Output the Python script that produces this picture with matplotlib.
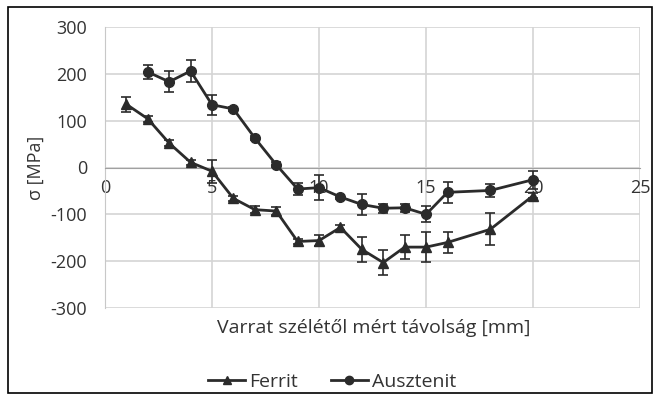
import numpy as np
import matplotlib.pyplot as plt
from matplotlib.patches import Rectangle
from matplotlib.lines import Line2D

plt.rcParams['font.family'] = ['Open Sans', 'DejaVu Sans']
plt.rcParams['axes.unicode_minus'] = False

# Ferrit mérési pontok
x_ferrit = [1, 2, 3, 4, 5, 6, 7, 8, 9, 10, 11, 12, 13, 14, 15, 16, 18, 20]
y_ferrit = [135, 104, 52, 11, -8, -66, -90, -93, -158, -156, -128, -175, -203, -170, -170, -160, -132, -60]
e_ferrit = [16, 6, 6, 6, 25, 5, 8, 8, 6, 12, 6, 26, 27, 25, 32, 22, 34, 5]

# Ausztenit mérési pontok
x_aus = [2, 3, 4, 5, 6, 7, 8, 9, 10, 11, 12, 13, 14, 15, 16, 18, 20]
y_aus = [204, 183, 206, 134, 125, 63, 6, -46, -43, -63, -79, -87, -86, -100, -53, -49, -26]
e_aus = [14, 22, 23, 21, 5, 5, 5, 12, 27, 5, 23, 10, 8, 17, 23, 14, 19]

fig = plt.figure(figsize=(6.6, 4), dpi=100)
ax = fig.add_axes([0.159, 0.23, 0.811, 0.7025])

szin = '#2b2b2b'
ax.errorbar(x_ferrit, y_ferrit, yerr=e_ferrit, color=szin, marker='^', markersize=7,
            linewidth=2, elinewidth=1.2, capsize=3.5, capthick=1.2, zorder=3)
ax.errorbar(x_aus, y_aus, yerr=e_aus, color=szin, marker='o', markersize=7,
            linewidth=2, elinewidth=1.2, capsize=3.5, capthick=1.2, zorder=3)

ax.set_xlim(0, 25)
ax.set_ylim(-300, 300)
ax.set_xticks(np.arange(0, 26, 5))
ax.set_yticks(np.arange(-300, 301, 100))
ax.grid(True, color='#d4d4d4', linewidth=1.2)
ax.set_axisbelow(True)

# x tengely a 0 vonalon, mint az Excelben
for s in ['top', 'right']:
    ax.spines[s].set_visible(False)
ax.spines['bottom'].set_position(('data', 0))
ax.spines['bottom'].set_color('#a0a0a0')
ax.spines['left'].set_color('#c8c8c8')
ax.tick_params(length=0, labelsize=13, colors='#333333')
ax.tick_params(axis='x', pad=8)
ax.tick_params(axis='y', pad=13)

ax.set_ylabel('σ [MPa]', fontsize=13, color='#333333', labelpad=4)
fig.text(0.566, 0.18, 'Varrat szélétől mért távolság [mm]', ha='center', va='center',
         fontsize=14, color='#333333')

handles = [Line2D([], [], color=szin, marker='^', markersize=6, linewidth=2),
           Line2D([], [], color=szin, marker='o', markersize=6, linewidth=2)]
leg = fig.legend(handles, ['Ferrit', 'Ausztenit'], loc='center', bbox_to_anchor=(0.503, 0.045),
                 ncol=2, frameon=False, fontsize=14, handlelength=1.9,
                 columnspacing=1.7, handletextpad=0.2)
for t in leg.get_texts():
    t.set_color('#333333')

fig.patches.append(Rectangle((8 / 660, 7 / 400), 644 / 660, 386 / 400, transform=fig.transFigure,
                             fill=False, edgecolor='black', linewidth=1.2))

fig.savefig('out.png', dpi=100, facecolor='white')
